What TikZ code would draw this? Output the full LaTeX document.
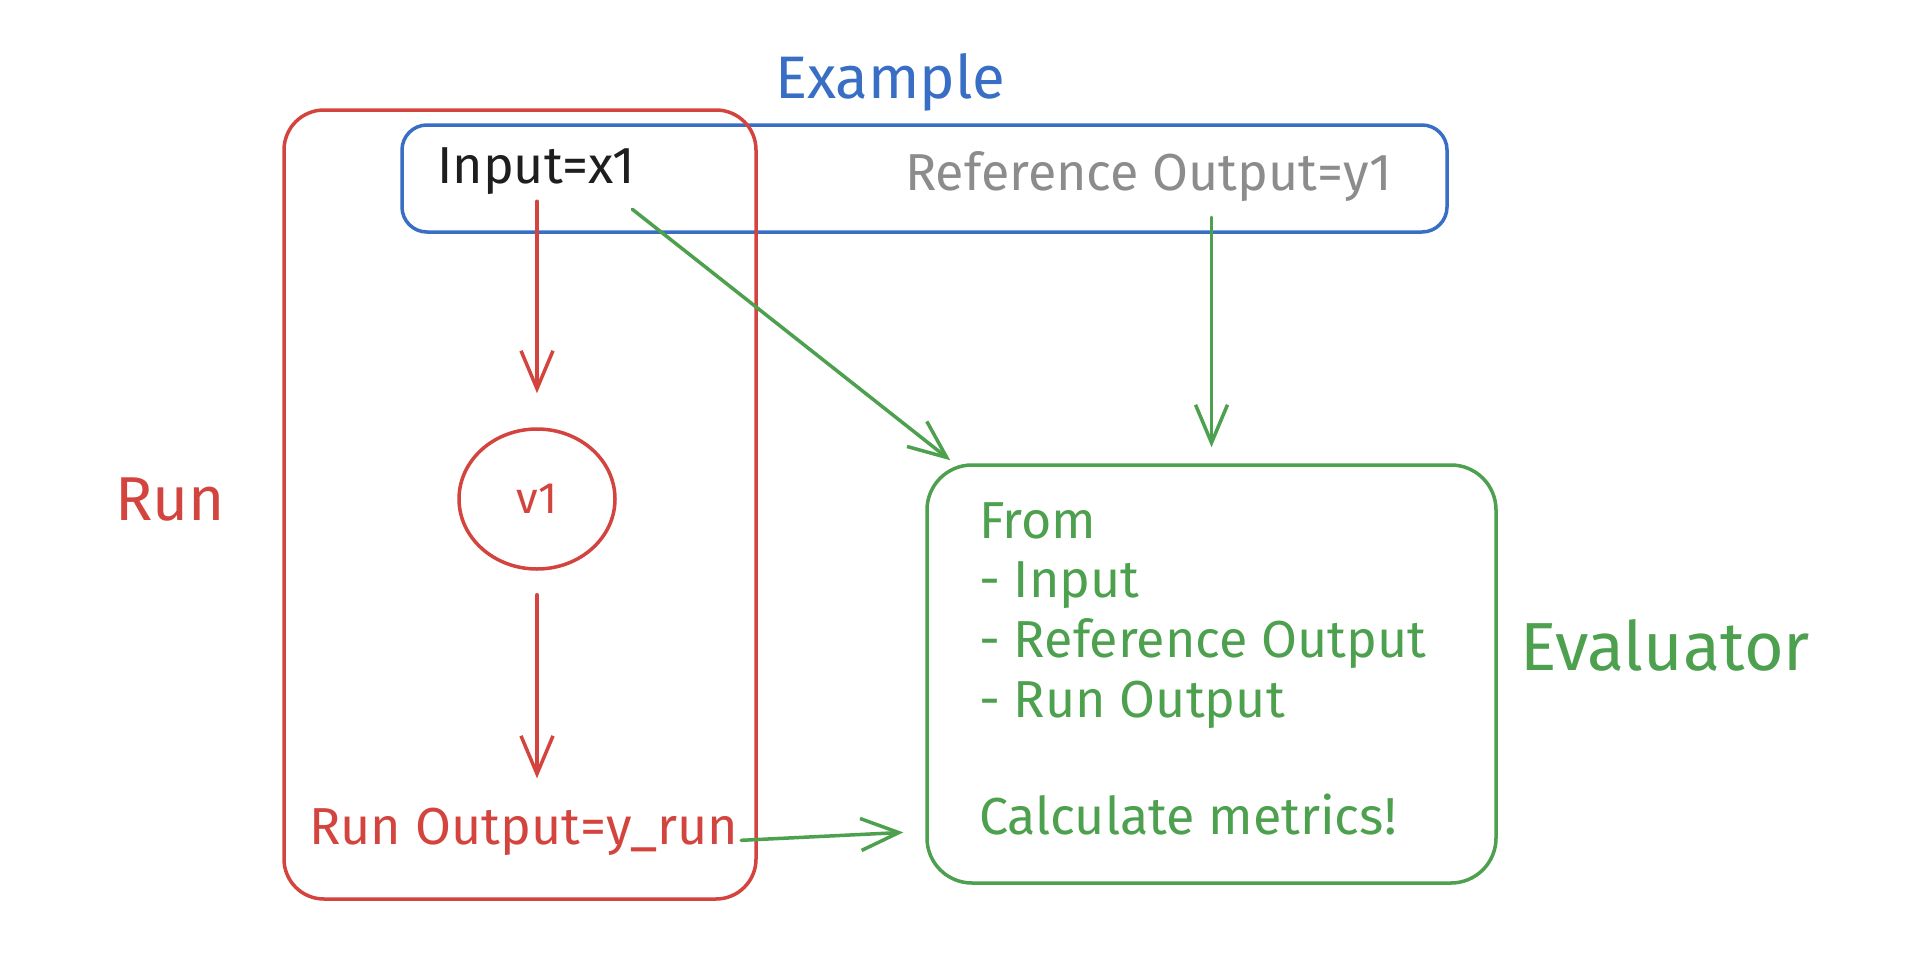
\documentclass[tikz,border=0pt]{standalone}
\usepackage{fontspec}
\setmainfont{Fira Sans}
\usetikzlibrary{arrows.meta,shapes.geometric}
\definecolor{xred}{RGB}{212,68,62}
\definecolor{xblue}{RGB}{56,110,196}
\definecolor{xgreen}{RGB}{76,160,78}
\definecolor{xgray}{RGB}{140,140,140}
\definecolor{xblack}{RGB}{30,30,30}
\begin{document}
\begin{tikzpicture}[x=1pt,y=-1pt,line cap=round,
  txt/.style={font=\fontsize{52}{62}\selectfont, inner sep=3pt},
  evtxt/.style={txt, anchor=base west, text=xgreen},
  box/.style={draw, line width=3.5pt, rounded corners=40pt, inner sep=0pt},
  arr/.style={line width=3.5pt, -{Straight Barb[length=38pt,width=32pt]}}]
\fill[white] (0,0) rectangle (1918,966);
\useasboundingbox (0,0) rectangle (1918,966);
% containers
\node[box, draw=xblue, rounded corners=25pt, minimum width=1045pt, minimum height=107pt] (exbox) at (924.5,178.5) {};
\node[box, draw=xred, minimum width=472pt, minimum height=789pt] (runbox) at (520,504.5) {};
\node[box, draw=xgreen, rounded corners=45pt, minimum width=569pt, minimum height=418pt] (evalbox) at (1211.5,674) {};
% labels
\node[anchor=base, text=xblue, font=\fontsize{60}{70}\selectfont] (extitle) at (890,98) {Example};
\node[anchor=base, text=xred, font=\fontsize{62}{72}\selectfont] (runlbl) at (170,520) {Run};
\node[anchor=base west, inner sep=0pt, text=xgreen, font=\fontsize{68}{78}\selectfont] (evallbl) at (1520,670) {Evaluator};
% texts
\node[txt, anchor=base west, text=xblack] (input) at (434,183) {Input=x1};
\node[txt, anchor=base west, text=xgray] (refout) at (902,190) {Reference Output=y1};
\node[ellipse, draw=xred, line width=3.5pt, minimum width=156pt, minimum height=140pt, inner sep=0pt, text=xred, font=\fontsize{44}{52}\selectfont] (v1) at (537,499) {v1};
\node[txt, anchor=base west, text=xred] (runout) at (306,844) {Run Output=y\_run};
\node[evtxt] (evfrom) at (976,538) {From};
\node[evtxt] (evin) at (976,597) {- Input};
\node[evtxt] (evref) at (976,657) {- Reference Output};
\node[evtxt] (evrun) at (976,717) {- Run Output};
\node[evtxt] (evcalc) at (976,834) {Calculate metrics!};
% connectors
\draw[arr, xred, shorten <=4pt, shorten >=34pt] (input.south -| v1.north) -- (v1.north);
\draw[arr, xred, shorten <=24pt, shorten >=26pt] (v1.south) -- (v1.south |- runout.north);
\draw[arr, xgreen] ([xshift=-6pt,yshift=-12pt]input.south east) -- ([xshift=25pt,yshift=3pt]evalbox.north west);
\draw[arr, xgreen, shorten <=13pt, shorten >=16pt] (refout.south -| evalbox.north) -- (evalbox.north);
\draw[arr, xgreen, shorten >=22pt] ([yshift=-9pt]runout.east) -- (runout.east -| evalbox.west);
\end{tikzpicture}
\end{document}
